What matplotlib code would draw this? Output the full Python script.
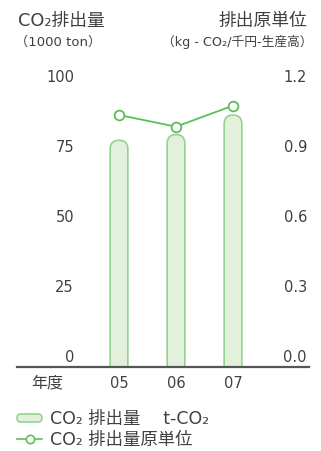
import matplotlib
matplotlib.use('Agg')
import matplotlib.pyplot as plt
from matplotlib.patches import FancyBboxPatch
from matplotlib.lines import Line2D

plt.rcParams['font.family'] = ['DejaVu Sans', 'Noto Sans CJK JP']

# data
years = ['05', '06', '07']
co2 = [81, 83, 90]              # 1000 ton
intensity = [1.08, 1.03, 1.12]  # kg-CO2 / 1000 yen
left_ticks = [0, 25, 50, 75, 100]
right_ticks = [0.0, 0.3, 0.6, 0.9, 1.2]

txt = '#404040'
bar_fc = '#e3f1dc'
bar_ec = '#92d48c'
line_c = '#5cbf58'

W, H = 321, 452
fig = plt.figure(figsize=(W / 100, H / 100), dpi=100)

# axes in pixel coords
x0, x1, y0, y1 = 17, 309, 368, 88
ax = fig.add_axes([x0 / W, 1 - y0 / H, (x1 - x0) / W, (y0 - y1) / H])
ax.set_xlim(-1.789, 3.333)
ax.set_ylim(0, 100)
for s in ['left', 'right', 'top']:
    ax.spines[s].set_visible(False)
ax.spines['bottom'].set_color('#555555')
ax.spines['bottom'].set_linewidth(1.6)
ax.set_yticks([])
ax.set_xticks(range(len(years)), years)
ax.tick_params(axis='x', length=0, pad=6, labelsize=10.5, labelcolor=txt)

# rounded bars
px_x = (x1 - x0) / (3.333 + 1.789)
px_y = (y0 - y1) / 100.0
bw = 0.31
for i, v in enumerate(co2):
    p = FancyBboxPatch((i - bw / 2, -6), bw, v + 6,
                       boxstyle='round,pad=0,rounding_size=%f' % (bw / 2),
                       mutation_aspect=px_x / px_y,
                       fc=bar_fc, ec=bar_ec, lw=1.2)
    ax.add_patch(p)

for t in left_ticks:
    ax.annotate(str(t), xy=(0.195, t), xycoords=('axes fraction', 'data'),
                xytext=(0, 7.2), textcoords='offset points',
                ha='right', va='center', fontsize=10.5, color=txt,
                annotation_clip=False)
ax.annotate('年度', xy=(0.102, 0), xycoords=('axes fraction', 'data'),
            xytext=(0, -11), textcoords='offset points',
            ha='center', va='center', fontsize=11.5, color=txt,
            annotation_clip=False)

ax2 = ax.twinx()
ax2.set_ylim(0, 1.2)
ax2.set_yticks([])
for s in ['left', 'right', 'top', 'bottom']:
    ax2.spines[s].set_visible(False)
ax2.plot(range(len(years)), intensity, '-o', color=line_c, lw=1.3,
         ms=7, mfc='white', mec=line_c, mew=1.3, clip_on=False)
for t in right_ticks:
    ax2.annotate('%.1f' % t, xy=(0.993, t), xycoords=('axes fraction', 'data'),
                 xytext=(0, 7.2), textcoords='offset points',
                 ha='right', va='center', fontsize=10.5, color=txt,
                 annotation_clip=False)

# headers
fig.text(18 / W, 1 - 21 / H, 'CO₂排出量', ha='left', va='center',
         fontsize=12.8, color=txt)
fig.text(15 / W, 1 - 42 / H, '（1000 ton）', ha='left', va='center',
         fontsize=9.5, color=txt)
fig.text(307 / W, 1 - 21 / H, '排出原単位', ha='right', va='center',
         fontsize=12.8, color=txt)
fig.text(313 / W, 1 - 42 / H, '（kg - CO₂/千円-生産高）', ha='right', va='center',
         fontsize=9.2, color=txt)

# legend
fig.patches.append(FancyBboxPatch((17 / W, 1 - 423 / H), 25 / W, 8 / H,
                                  boxstyle='round,pad=0,rounding_size=%f' % (4 / W),
                                  mutation_aspect=W / H,
                                  transform=fig.transFigure, figure=fig,
                                  fc=bar_fc, ec=bar_ec, lw=1.2))
fig.text(50 / W, 1 - 419 / H, 'CO₂ 排出量\u3000 t-CO₂', ha='left', va='center',
         fontsize=12.5, color=txt)
fig.lines.append(Line2D([17 / W, 42 / W], [1 - 440 / H, 1 - 440 / H],
                        transform=fig.transFigure, figure=fig, color=line_c, lw=1.2))
fig.lines.append(Line2D([29.5 / W], [1 - 440 / H], transform=fig.transFigure,
                        figure=fig, marker='o', ms=6, mfc='white', mec=line_c,
                        mew=1.2, ls='none'))
fig.text(50 / W, 1 - 440 / H, 'CO₂ 排出量原単位', ha='left', va='center',
         fontsize=12.5, color=txt)

fig.savefig('out.png', dpi=100)
